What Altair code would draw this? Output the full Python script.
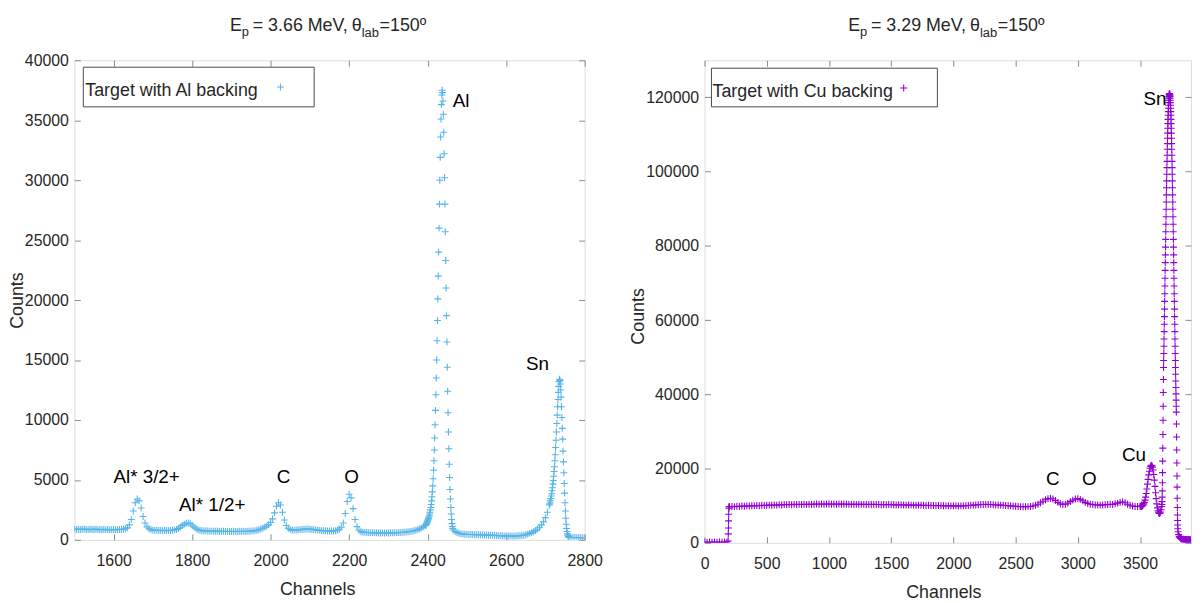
import altair as alt
import pandas as pd

FONT = "Liberation Sans"
BLUE = "#56B4E9"
PURPLE = "#9400D3"
FRAME = "#8a8a8a"
INK = "#262626"
PLUS = "M-1,0L1,0M0,-1L0,1"

# ---------------- Left spectrum: target with Al backing (Ep = 3.66 MeV) -------------
al_base1_start, al_base1_step = 1500, 5
al_base1 = [
    900, 870, 890, 860, 880, 910, 870, 850, 880, 860, 870, 890, 850, 860, 840,
    870, 850, 860, 830, 850, 860, 840, 850, 870, 860, 880,
    920, 1000, 1250, 1700, 2400, 3100, 3400, 3250, 2650, 1950, 1400, 1080, 920, 850, 810,
    790, 800, 780, 790, 770, 780, 790, 770, 780, 800, 830, 870, 950,
    1060, 1190, 1310, 1390, 1410, 1350, 1220, 1060, 930, 840, 790,
    760, 740, 750, 730, 720, 740, 720, 710, 730, 700, 720, 710, 700, 720, 700,
    690, 710, 700, 690, 710, 700, 720, 700, 710, 720, 730, 750, 770, 800, 840, 900,
    970, 1060, 1160, 1270, 1450, 1750, 2250, 2800, 3100, 2900, 2300, 1650, 1200, 960, 850,
    820, 810, 820, 830, 850, 870, 890, 900, 900, 890, 870, 850, 830, 810, 790,
    770, 760, 750, 740, 740, 730, 740, 760, 800, 890,
    1050, 1400, 2200, 3200, 3800, 3500, 2600, 1700, 1100, 800, 680,
    640, 620, 610, 600, 590, 600, 580, 590, 580, 570, 580, 570, 580, 570, 590,
    580, 590, 600, 600, 610, 620, 630, 650, 670, 690, 720, 760, 800, 850, 920,
    1000, 1100, 1200,
]
al_peak_start, al_peak_step = 2396, 1
al_peak = [
    1280, 1350, 1420, 1500, 1580, 1670, 1770, 1880, 2000, 2150,
    2300, 2500, 2700, 2950, 3250, 3600, 4000, 4500, 5100, 5800,
    6600, 7500, 8500, 9600, 10800, 12100, 13500, 15000, 16600, 18300,
    20100, 22000, 24000, 26000, 28000, 30000, 31900, 33600, 35100, 36300,
    37100, 37500, 37300, 36600, 35500, 34000, 32200, 30200, 28000, 25700,
    23300, 21000, 18700, 16500, 14400, 12400, 10600, 9000, 7600, 6300,
    5200, 4200, 3400, 2700, 2150, 1700, 1350, 1100, 950,
]
al_base2_start, al_base2_step = 2465, 5
al_base2 = [
    820, 700, 610, 550, 510, 480,
    470, 460, 450, 450, 440, 430, 430, 420, 420, 410, 400, 400, 390, 380, 380,
    370, 360, 350, 350, 340, 330, 330, 320, 320, 310, 310, 320, 330, 340, 360,
    390, 430, 480, 540, 600, 680, 780, 900, 1050, 1250, 1500, 1850, 2300, 2900,
]
al_sn_start, al_sn_step = 2711, 1
al_sn = [
    3000, 3150, 3300, 3450, 3650, 3850, 4100, 4350, 4650, 4950,
    5300, 5700, 6100, 6600, 7100, 7700, 8300, 9000, 9700, 10400,
    11100, 11700, 12300, 12800, 13200, 13400, 13300, 13000, 12500, 11900,
    11100, 10200, 9300, 8400, 7400, 6500, 5600, 4700, 3900, 3100,
    2400, 1800, 1300, 950, 700, 500, 380, 300, 250, 220,
]
al_base3_start, al_base3_step = 2765, 5
al_base3 = [200, 190, 200, 180, 190, 180, 170, 180]

# ---------------- Right spectrum: target with Cu backing (Ep = 3.29 MeV) ------------
cu_low_start, cu_low_step = 0, 20
cu_low = [200, 150, 200, 150, 200, 150, 200, 150, 200, 250]
cu_jump_start, cu_jump_step = 190, 1
cu_jump = [500, 2400, 4000, 5900, 7700, 9300, 9700]
cu_base_start, cu_base_step = 200, 20
cu_base = [
    9700, 9800, 9750, 9850, 9800, 9900, 9850, 9950, 9900, 10000, 9950, 10050, 10000, 10100, 10050,
    10100, 10150, 10100, 10200, 10150, 10250, 10200, 10300, 10250, 10300, 10250, 10350, 10300,
    10350, 10300, 10400, 10350, 10400, 10350, 10400, 10450, 10400, 10450, 10400, 10450,
    10450, 10400, 10450, 10400, 10450, 10400, 10450, 10400, 10400, 10350, 10400, 10350, 10400,
    10350, 10350, 10300, 10350, 10300, 10350, 10300, 10300, 10250, 10300, 10250, 10300,
    10250, 10250, 10200, 10250, 10200, 10200, 10150, 10200, 10150, 10150, 10100, 10150, 10100,
    10100, 10050, 10100, 10050, 10050, 10000, 10050, 10000, 10000, 9950, 10000, 9950,
    9950, 9950, 9900, 9950, 9950, 10000, 10050, 10100, 10150, 10200, 10250, 10300, 10300,
    10350, 10300, 10300, 10250, 10200, 10200, 10150, 10100, 10050, 10000, 9950, 9900,
    9850, 9800, 9750, 9700, 9700, 9750, 9800, 9900, 10100, 10400, 10800, 11200, 11600,
    11900, 12000, 11800, 11400, 10900, 10500, 10300, 10400, 10700, 11100, 11500, 11800,
    11900, 11700, 11300, 10900, 10600, 10400, 10300, 10200, 10200, 10150, 10200, 10250, 10300,
    10400, 10300, 10500, 10700, 10900, 11000, 10800, 10400, 10100, 9900, 9800, 9800, 9900,
]
cu_peak_start, cu_peak_step = 3505, 5
cu_peak = [
    9800, 9800, 9900, 10000, 10200, 10500, 10900, 11500, 12300, 13300,
    14500, 15800, 17100, 18300, 19300, 20100, 20600, 20900, 20800, 20400,
    19600, 18400, 16900, 15200, 13500, 11900, 10500, 9400, 8600, 8100,
    7900, 8000, 8300, 8900, 9800,
]
cu_sn_start, cu_sn_step = 3676, 1
cu_sn = [
    10300, 11100, 12300, 14000, 16200, 18900, 22000, 25500, 29200, 33000, 36800, 40500, 44000,
    47250, 49110, 51010, 52950, 54900, 56890, 58900, 60930, 62970, 65040,
    67110, 69200, 71290, 73390, 75490, 77580, 79670, 81740, 83800, 85840,
    87860, 89860, 91820, 93750, 95650, 97500, 99310, 101070, 102770, 104420,
    106010, 107540, 108990, 110380, 111700, 112940, 114090, 115170, 116160, 117070,
    117880, 118600, 119230, 119770, 120210, 120560, 120800, 120950,
    121000,
    120950, 120800, 120560, 120210, 119770, 119230, 118600, 117880, 117070, 116160,
    115170, 114090, 112940, 111700, 110380, 108990, 107540, 106010, 104420, 102770,
    101070, 99310, 97500, 95650, 93750, 91820, 89860, 87860, 85840, 83800,
    81740, 79670, 77580, 75490, 73390, 71290, 69200, 67110, 65040, 62970,
    60930, 58900, 56890, 54900, 52950, 51010, 49110, 47250, 45410, 43610,
    41850, 40130, 38450, 36800, 35200,
    32000, 28500, 25000, 21500, 18000, 15000, 12000, 9500, 7500, 6000, 4800, 3800, 3000,
]
cu_tail_start, cu_tail_step = 3810, 5
cu_tail = [2200, 1700, 1400, 1200, 1100, 1000, 1000, 950, 950, 900, 900,
           900, 850, 900, 850, 850, 900, 850, 850, 800, 850]

# ---------------- axes, labels, annotations ----------------------------------------
al_xdomain = [1500, 2800]
al_ydomain = [0, 40000]
al_xticks = [1600, 1800, 2000, 2200, 2400, 2600, 2800]
al_yticks = [0, 5000, 10000, 15000, 20000, 25000, 30000, 35000, 40000]
al_labels = ["Al", "Sn", "Al* 3/2+", "Al* 1/2+", "C", "O"]
al_label_ch = [2485, 2680, 1684, 1851, 2033, 2206]
al_label_counts = [36600, 14700, 5200, 2900, 5200, 5200]

cu_xdomain = [0, 3910]
cu_ydomain = [0, 130000]
cu_xticks = [0, 500, 1000, 1500, 2000, 2500, 3000, 3500]
cu_yticks = [0, 20000, 40000, 60000, 80000, 100000, 120000]
cu_labels = ["Sn", "Cu", "C", "O"]
cu_label_ch = [3620, 3452, 2798, 3093]
cu_label_counts = [119600, 23750, 17100, 17100]


def spectrum(parts):
    rows = []
    for start, step, counts in parts:
        for i, c in enumerate(counts):
            rows.append({"ch": start + i * step, "counts": c})
    return pd.DataFrame(rows)


df_al = spectrum([
    (al_base1_start, al_base1_step, al_base1),
    (al_peak_start, al_peak_step, al_peak),
    (al_base2_start, al_base2_step, al_base2),
    (al_sn_start, al_sn_step, al_sn),
    (al_base3_start, al_base3_step, al_base3),
])
df_cu = spectrum([
    (cu_low_start, cu_low_step, cu_low),
    (cu_jump_start, cu_jump_step, cu_jump),
    (cu_base_start, cu_base_step, cu_base),
    (cu_peak_start, cu_peak_step, cu_peak),
    (cu_sn_start, cu_sn_step, cu_sn),
    (cu_tail_start, cu_tail_step, cu_tail),
])

ONE = pd.DataFrame({"k": [0]})


def panel(df, color, xdom, ydom, xticks, yticks, W, H, ann, title_parts,
          legend_text, box, text_xy, mark_xy, title_x, y_title_extra):
    xs = alt.Scale(domain=xdom, nice=False, zero=False)
    ys = alt.Scale(domain=ydom, nice=False, zero=False)
    tick_kw = dict(labels=False, ticks=True, tickSize=6, tickColor=FRAME,
                   tickWidth=1, domain=False, grid=False, title=None)
    corners = pd.DataFrame({"ch": xdom, "counts": ydom})
    ticks_a = alt.Chart(corners).mark_point(opacity=0).encode(
        x=alt.X("ch:Q", scale=xs,
                axis=alt.Axis(orient="top", offset=-H, values=xticks, **tick_kw)),
        y=alt.Y("counts:Q", scale=ys,
                axis=alt.Axis(orient="right", offset=-W, values=yticks, **tick_kw)),
    )
    ticks_b = alt.Chart(corners).mark_point(opacity=0).encode(
        x=alt.X("ch:Q", scale=xs,
                axis=alt.Axis(orient="bottom", offset=-H, values=xticks, **tick_kw)),
        y=alt.Y("counts:Q", scale=ys,
                axis=alt.Axis(orient="left", offset=-W, values=yticks, **tick_kw)),
    )
    lab_kw = dict(ticks=False, tickSize=0, domain=False, grid=False,
                  labelFont=FONT, labelFontSize=16, labelColor=INK,
                  labelFlush=False, labelOverlap=False, format="d",
                  titleFont=FONT, titleFontSize=18, titleFontWeight="normal",
                  titleColor=INK)
    pts = alt.Chart(df).mark_point(
        shape=PLUS, filled=False, color=color, strokeWidth=1.1, size=49,
        opacity=1, clip=True,
    ).encode(
        x=alt.X("ch:Q", scale=xs,
                axis=alt.Axis(orient="bottom", values=xticks, title="Channels",
                              labelPadding=13, titlePadding=12, titleX=title_x,
                              **lab_kw)),
        y=alt.Y("counts:Q", scale=ys,
                axis=alt.Axis(orient="left", values=yticks, title="Counts",
                              labelPadding=6, titlePadding=-2, **y_title_extra,
                              **lab_kw)),
    )
    ann_df = pd.DataFrame({"ch": ann[0], "counts": ann[1], "label": ann[2]})
    ann_layer = alt.Chart(ann_df).mark_text(
        font=FONT, fontSize=19, color="black", align="center", baseline="middle"
    ).encode(
        x=alt.X("ch:Q", scale=xs, axis=None),
        y=alt.Y("counts:Q", scale=ys, axis=None),
        text="label:N",
    )
    box_layer = alt.Chart(ONE).mark_rect(
        fill="white", stroke="#4a4a4a", strokeWidth=1
    ).encode(x=alt.value(box[0]), x2=alt.value(box[1]),
             y=alt.value(box[2]), y2=alt.value(box[3]))
    leg_text = alt.Chart(ONE).mark_text(
        text=legend_text, font=FONT, fontSize=18, color=INK, align="left",
        baseline="alphabetic"
    ).encode(x=alt.value(text_xy[0]), y=alt.value(text_xy[1]))
    leg_mark = alt.Chart(ONE).mark_point(
        shape=PLUS, filled=False, color=color, strokeWidth=1.1, size=49, opacity=1
    ).encode(x=alt.value(mark_xy[0]), y=alt.value(mark_xy[1]))
    titles = []
    for txt, tx, ty, fs in title_parts:
        titles.append(
            alt.Chart(ONE).mark_text(
                text=txt, font=FONT, fontSize=fs, color=INK, align="left",
                baseline="alphabetic"
            ).encode(x=alt.value(tx), y=alt.value(ty))
        )
    return alt.layer(
        ticks_a, ticks_b, pts, ann_layer, box_layer, leg_text, leg_mark, *titles
    ).resolve_axis(x="independent", y="independent").properties(width=W, height=H)


left = panel(
    df_al, BLUE, al_xdomain, al_ydomain, al_xticks, al_yticks, 515, 484,
    (al_label_ch, al_label_counts, al_labels),
    [("E", 157, -30, 18), ("p", 169, -25, 13), ("= 3.66 MeV,", 180, -30, 18),
     ("θ", 280, -30, 18), ("lab", 290, -23, 13), ("=150º", 308, -30, 18)],
    "Target with Al backing", (9, 242, 7, 47), (11, 36), (208, 27), 245, {},
)
right = panel(
    df_cu, PURPLE, cu_xdomain, cu_ydomain, cu_xticks, cu_yticks, 491, 487,
    (cu_label_ch, cu_label_counts, cu_labels),
    [("E", 145, -30, 18), ("p", 157, -25, 13), ("= 3.29 MeV,", 168, -30, 18),
     ("θ", 268, -30, 18), ("lab", 278, -23, 13), ("=150º", 296, -30, 18)],
    "Target with Cu backing", (7, 235, 8, 47), (8, 37), (201, 28), 241,
    {"titleY": 258},
)

chart = alt.hconcat(left, right, spacing=26).configure_view(
    stroke=FRAME, strokeWidth=1
).configure(font=FONT).properties(
    padding={"left": 0, "top": 5, "right": 0, "bottom": 0}
)

chart.save("out.html", embed_options={"renderer": "svg", "actions": False})
